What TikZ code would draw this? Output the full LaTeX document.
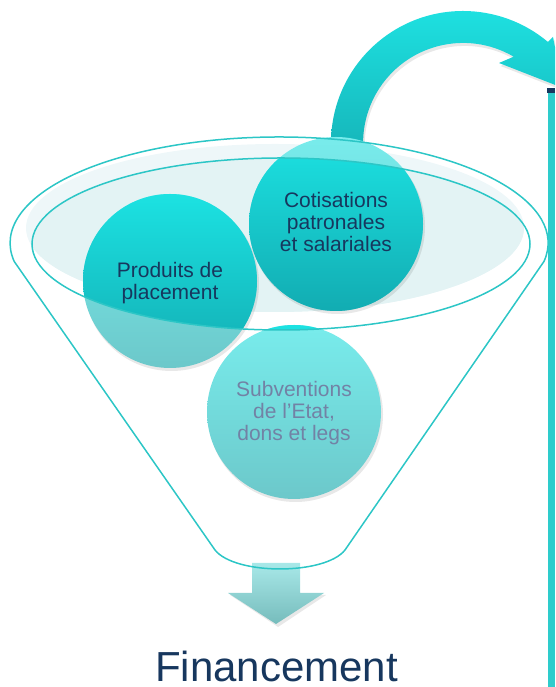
\documentclass[tikz,border=0pt]{standalone}
\usepackage{fontspec}
\setmainfont{Liberation Sans}
\definecolor{fline}{RGB}{44,198,198}
\definecolor{navy}{RGB}{23,55,94}
\definecolor{slate}{RGB}{114,130,165}
\definecolor{liq}{RGB}{238,247,249}
\definecolor{liqin}{RGB}{227,243,244}
\definecolor{satTop}{RGB}{28,226,226}
\definecolor{satBot}{RGB}{18,172,178}
\definecolor{litTop}{RGB}{120,236,236}
\definecolor{litBot}{RGB}{108,200,202}
\definecolor{arrTop}{RGB}{30,224,224}
\definecolor{arrBot}{RGB}{22,184,188}
\definecolor{barc}{RGB}{46,204,204}
\definecolor{dTop}{RGB}{168,232,232}
\definecolor{dBot}{RGB}{118,188,188}
\begin{document}
\begin{tikzpicture}[x=1pt,y=1pt,
  lbl/.style={font=\fontsize{21}{21.7}\selectfont, align=center, text=navy, inner sep=0pt},
  funnelline/.style={draw=fline, line width=1.5pt},
  bubble/.style={circle, minimum size=174pt, inner sep=0pt, top color=litTop, bottom color=litBot},
  shadowfill/.style={fill=black, opacity=0.09}]
\useasboundingbox (0,0) rectangle (555,687);
\clip (0,0) rectangle (555,687);

% curved arrow (shadow + body)
\fill[shadowfill] (332.5,541) arc[start angle=180,end angle=50,radius=132] -- (554.5,647) -- (564.5,596) -- (500.5,621) -- (515.2,627.3) arc[start angle=59.6,end angle=180,radius=100] -- cycle;
\shade[top color=arrTop, bottom color=arrBot] (331,544) arc[start angle=180,end angle=50,radius=132] -- (553,650) -- (563,599) -- (499,624) -- (513.7,630.3) arc[start angle=59.6,end angle=180,radius=100] -- cycle;

% liquid
\fill[liq] (275,459) ellipse[x radius=249, y radius=84];
\begin{scope}
  \clip (281,443) ellipse[x radius=249, y radius=86];
  \fill[liqin] (275,459) ellipse[x radius=249, y radius=84];
\end{scope}

% shadows of bubbles
\fill[shadowfill] (171.5,403.5) circle[radius=87.5];
\fill[shadowfill] (337.5,460.5) circle[radius=87.5];
\fill[shadowfill] (295.5,272.5) circle[radius=87.5];

% bubbles (light part)
\node[bubble] (prod) at (170,406) {};
\node[bubble] (cot) at (336,463) {};
\node[bubble] (sub) at (294,275) {};

% bubbles (inside the rim: saturated)
\begin{scope}
  \clip (281,443) ellipse[x radius=249, y radius=86];
  \shade[top color=satTop, bottom color=satBot] (prod.center) circle[radius=87];
  \shade[top color=satTop, bottom color=satBot] (cot.center) circle[radius=87];
  \shade[top color=satTop, bottom color=satBot] (sub.center) circle[radius=87];
\end{scope}

% down arrow
\fill[shadowfill] (230,92) -- (278,60) -- (326,92) -- cycle;
\shade[top color=dTop, bottom color=dBot] (252,124) -- (300,124) -- (300,94) -- (324,94) -- (276,63) -- (228,94) -- (252,94) -- cycle;

% funnel outline and rim
\draw[funnelline] (544,425.6) arc[start angle=-10, end angle=190, x radius=269, y radius=106]
  -- (215,137) .. controls (235,111.7) and (325,111.7) .. (345,137) -- cycle;
\draw[funnelline] (281,443) ellipse[x radius=249, y radius=86];

% labels
\node[lbl] (tprod) at (170,404) {Produits de\\placement};
\node[lbl] (tcot) at (336,465) {Cotisations\\patronales\\et salariales};
\node[lbl, text=slate] (tsub) at (294,274) {Subventions\\de l’Etat,\\dons et legs};
\node[font=\fontsize{42}{50}\selectfont, text=navy, anchor=base, inner sep=0pt] (fin) at (276.5,5.5) {Financement};

% right bar
\fill[barc] (548,0) rectangle (555,594);
\fill[navy] (547,594) rectangle (555,599);
\end{tikzpicture}
\end{document}
